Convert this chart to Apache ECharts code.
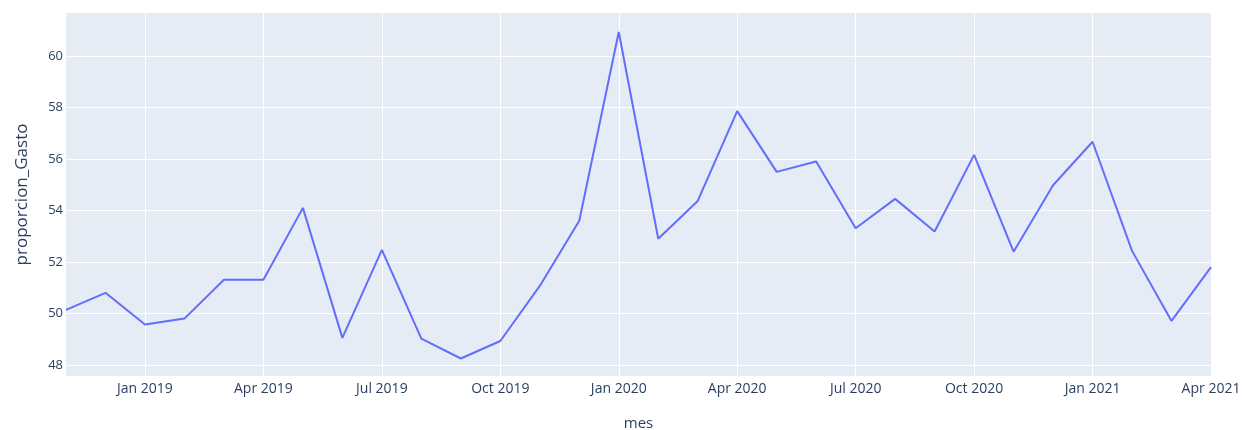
<!DOCTYPE html>
<html>
<head>
<meta charset="utf-8">
<script src="https://cdn.jsdelivr.net/npm/echarts@6/dist/echarts.min.js"></script>
<style>
html,body{margin:0;padding:0;background:#fff;}
#chart{width:1242px;height:430px;}
</style>
</head>
<body>
<div id="chart"></div>
<script>
const months = [
  '2018-11','2018-12',
  '2019-01','2019-02','2019-03','2019-04','2019-05','2019-06','2019-07','2019-08','2019-09','2019-10','2019-11','2019-12',
  '2020-01','2020-02','2020-03','2020-04','2020-05','2020-06','2020-07','2020-08','2020-09','2020-10','2020-11','2020-12',
  '2021-01','2021-02','2021-03','2021-04'
];
const proporcionGasto = [
  50.14, 50.80,
  49.57, 49.80, 51.31, 51.31, 54.10, 49.05, 52.47, 49.02, 48.25, 48.93, 51.07, 53.60,
  60.93, 52.90, 54.37, 57.86, 55.50, 55.90, 53.31, 54.45, 53.18, 56.16, 52.40, 54.98,
  56.67, 52.43, 49.71, 51.80
];
const yTicks = [48, 50, 52, 54, 56, 58, 60];
const monthNames = ['Jan','Feb','Mar','Apr','May','Jun','Jul','Aug','Sep','Oct','Nov','Dec'];

const fontFamily = '"Open Sans", Verdana, Arial, sans-serif';
const textColor = '#2a3f5f';

function isQuarterStart(idx) {
  const m = parseInt(months[idx].split('-')[1], 10);
  return (m - 1) % 3 === 0;
}

const chart = echarts.init(document.getElementById('chart'), null, {renderer: 'canvas'});
chart.setOption({
  animation: false,
  backgroundColor: '#ffffff',
  grid: {
    left: 66, right: 31, top: 13, bottom: 54,
    containLabel: false,
    outerBoundsMode: 'none',
    show: true, backgroundColor: '#E5ECF6', borderWidth: 0
  },
  xAxis: {
    type: 'category',
    data: months,
    boundaryGap: false,
    name: 'mes',
    nameLocation: 'middle',
    nameGap: 40,
    nameTextStyle: {color: textColor, fontSize: 15, fontFamily: fontFamily},
    axisLine: {show: false},
    axisTick: {show: false},
    axisLabel: {
      interval: function (idx) { return isQuarterStart(idx); },
      color: textColor, fontSize: 14, fontFamily: fontFamily, margin: 6,
      formatter: function (v) {
        const p = v.split('-');
        return monthNames[parseInt(p[1], 10) - 1] + ' ' + p[0];
      }
    },
    splitLine: {
      show: true,
      interval: function (idx) { return isQuarterStart(idx); },
      lineStyle: {color: '#ffffff', width: 1}
    }
  },
  yAxis: {
    type: 'value',
    min: 47.57,
    max: 61.67,
    name: 'proporcion_Gasto',
    nameLocation: 'middle',
    nameGap: 35,
    nameTextStyle: {color: textColor, fontSize: 17, fontFamily: fontFamily},
    axisLine: {show: false},
    axisTick: {show: false, customValues: yTicks},
    axisLabel: {
      customValues: yTicks,
      color: textColor, fontSize: 13, fontFamily: fontFamily, margin: 3
    },
    splitLine: {show: true, lineStyle: {color: '#ffffff', width: 1}}
  },
  series: [{
    type: 'line',
    data: proporcionGasto,
    showSymbol: false,
    symbol: 'none',
    lineStyle: {color: '#636efa', width: 2},
    itemStyle: {color: '#636efa'}
  }]
});
</script>
</body>
</html>
